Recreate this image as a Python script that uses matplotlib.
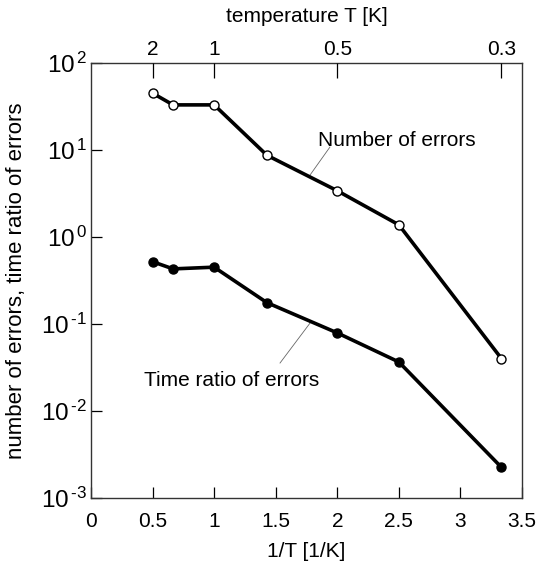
import numpy as np
import matplotlib.pyplot as plt
from matplotlib.ticker import (FixedLocator, FixedFormatter, FuncFormatter,
                               LogLocator, NullLocator)

plt.rcParams['font.family'] = ['Liberation Sans', 'DejaVu Sans']
plt.rcParams['mathtext.fontset'] = 'custom'
plt.rcParams['mathtext.rm'] = 'Liberation Sans'
plt.rcParams['mathtext.it'] = 'Liberation Sans'

# inverse temperature 1/T [1/K]
inv_T = [0.5, 2 / 3, 1.0, 1 / 0.7, 2.0, 2.5, 1 / 0.3]
n_errors = [45, 33, 33, 8.7, 3.4, 1.38, 0.040]
time_ratio = [0.52, 0.43, 0.45, 0.176, 0.079, 0.0366, 0.00225]

top_temps = [2, 1, 0.5, 0.3]
top_labels = ['2', '1', '0.5', '0.3']

fs = 15

fig = plt.figure(figsize=(5.43, 5.75), dpi=100)
ax = fig.add_axes([91 / 543, 1 - 498 / 575, 431 / 543, 435 / 575])

ax.plot(inv_T, n_errors, color='black', lw=2.6, marker='o', ms=6.5,
        mfc='white', mec='black', mew=1.0, zorder=3)
ax.plot(inv_T, time_ratio, color='black', lw=2.6, marker='o', ms=6.5,
        mfc='black', mec='black', mew=1.0, zorder=3)

ax.set_yscale('log')
ax.set_xlim(0, 3.5)
ax.set_ylim(1e-3, 1e2)
ax.set_xticks(np.arange(0, 3.51, 0.5))
ax.set_xticklabels(['0', '0.5', '1', '1.5', '2', '2.5', '3', '3.5'])
ax.yaxis.set_major_locator(LogLocator(base=10, numticks=10))
ax.yaxis.set_minor_locator(NullLocator())
ax.yaxis.set_major_formatter(FuncFormatter(
    lambda v, pos: r'$\mathregular{10^{\,\text{%d}}}$' % round(np.log10(v))))

ax.tick_params(axis='both', which='major', direction='in', length=8,
               width=0.9, labelsize=fs, pad=10, right=False, top=False)
ax.tick_params(axis='y', labelsize=17.5, pad=3)
for s in ax.spines.values():
    s.set_linewidth(1.0)
    s.set_color('#333333')

ax.set_xlabel('1/T [1/K]', fontsize=fs, labelpad=8)
ax.set_ylabel('number of errors, time ratio of errors', fontsize=16)
ax.yaxis.set_label_coords(-64 / 431, 0.5)

# temperature scale along the top
top = ax.twiny()
top.set_xlim(ax.get_xlim())
top.xaxis.set_major_locator(FixedLocator([1 / t for t in top_temps]))
top.xaxis.set_major_formatter(FixedFormatter(top_labels))
top.xaxis.set_minor_locator(NullLocator())
top.tick_params(axis='x', direction='in', length=11, width=0.9,
                labelsize=fs, pad=3)
top.set_xlabel('temperature T [K]', fontsize=fs, labelpad=13)
for s in top.spines.values():
    s.set_visible(False)

# curve labels with leader lines
ax.text(1.845, 13.0, 'Number of errors', fontsize=fs, ha='left',
        va='center')
ax.plot([1.779, 1.94], [5.16, 10.8], color='#666666', lw=0.6)
ax.text(1.145, 0.0227, 'Time ratio of errors', fontsize=fs,
        ha='center', va='center')
ax.plot([1.535, 1.779], [0.0356, 0.1026], color='#666666', lw=0.6)

fig.savefig('out.png', dpi=100)
